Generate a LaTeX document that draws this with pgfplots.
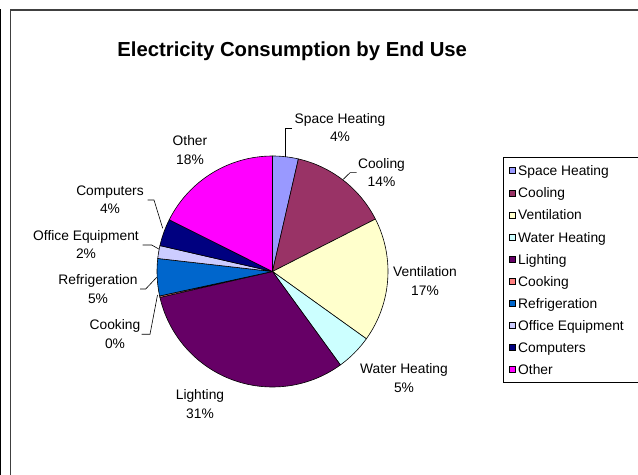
\documentclass[border=0pt]{standalone}
\usepackage{pgfplots}
\pgfplotsset{compat=1.18}
\usepackage{fontspec}
\setmainfont{Liberation Sans}
\definecolor{cSpace}{HTML}{9999FF}
\definecolor{cCool}{HTML}{993366}
\definecolor{cVent}{HTML}{FFFFCC}
\definecolor{cWater}{HTML}{CCFFFF}
\definecolor{cLight}{HTML}{660066}
\definecolor{cCook}{HTML}{FF8080}
\definecolor{cRefr}{HTML}{0066CC}
\definecolor{cOffice}{HTML}{CCCCFF}
\definecolor{cComp}{HTML}{000080}
\definecolor{cOther}{HTML}{FF00FF}
\newcommand\lab{\fontsize{13.8bp}{18.7bp}\selectfont}
% share of electricity consumption (%) / slice colour, clockwise from 12 o'clock
\def\piedata{3.6/cSpace,13.9/cCool,17.4/cVent,5.1/cWater,31.4/cLight,0.2/cCook,5.2/cRefr,1.8/cOffice,3.8/cComp,17.6/cOther}
\begin{document}
\begin{tikzpicture}
\useasboundingbox (0,0) rectangle (638bp,475bp);
\begin{axis}[x=1bp,y=1bp,xmin=0,xmax=638,ymin=0,ymax=475,
  hide axis,clip=false,at={(0,0)},anchor=origin,
  legend style={at={(axis cs:503,318)},anchor=north west,draw=none,fill=none,
    font=\fontsize{13.8bp}{16bp}\selectfont,inner xsep=6bp,inner ysep=6.5bp,row sep=9.1bp,column sep=2.5bp,
    nodes={inner sep=0pt,text height=12bp,text depth=1bp,anchor=base west}},
  legend cell align=left,
  legend image code/.code={\filldraw[#1,draw=black,line width=0.5bp] (0bp,2bp) rectangle (6bp,8bp);}]
% chart frame
\draw[line width=1.3bp,black!75] (axis cs:10.8,-20) -- (axis cs:10.8,465) -- (axis cs:700,465);
\draw[line width=1.2bp,black] (axis cs:0.6,-20) -- (axis cs:0.6,465.5);
% legend frame (its right side lies past the edge of the picture)
\draw[line width=0.8bp] (axis cs:720,318) -- (axis cs:503,318) -- (axis cs:503,93) -- (axis cs:720,93);
% pie slices
\gdef\cum{0}
\foreach \v/\col in \piedata {
  \pgfmathsetmacro\sa{90-3.6*\cum}
  \pgfmathsetmacro\newcum{\cum+\v}
  \pgfmathsetmacro\ea{90-3.6*\newcum}
  \global\let\cum\newcum
  \edef\temp{\noexpand\filldraw[fill=\col,draw=black,line width=0.6bp,line join=round] (axis cs:272.5,203.5) -- ++(\sa:115.5bp) arc[start angle=\sa,end angle=\ea,radius=115.5bp] -- cycle;}
  \temp
}
\addlegendimage{fill=cSpace}\addlegendentry{Space Heating}
\addlegendimage{fill=cCool}\addlegendentry{Cooling}
\addlegendimage{fill=cVent}\addlegendentry{Ventilation}
\addlegendimage{fill=cWater}\addlegendentry{Water Heating}
\addlegendimage{fill=cLight}\addlegendentry{Lighting}
\addlegendimage{fill=cCook}\addlegendentry{Cooking}
\addlegendimage{fill=cRefr}\addlegendentry{Refrigeration}
\addlegendimage{fill=cOffice}\addlegendentry{Office Equipment}
\addlegendimage{fill=cComp}\addlegendentry{Computers}
\addlegendimage{fill=cOther}\addlegendentry{Other}
% title
\node[anchor=base,font=\bfseries\fontsize{20.3bp}{24bp}\selectfont] at (axis cs:292.2,418.3) {Electricity Consumption by End Use};
% leader lines
\draw[line width=0.6bp] (axis cs:292,347) -- (axis cs:285,347) -- (axis cs:285,318.3);
\draw[line width=0.6bp] (axis cs:356.7,302.3) -- (axis cs:350,302.3) -- (axis cs:343.3,295.7);
\draw[line width=0.6bp] (axis cs:141.7,140.7) -- (axis cs:150,140.7) -- (axis cs:157.5,180);
\draw[line width=0.6bp] (axis cs:140,186) -- (axis cs:145.7,186) -- (axis cs:156.7,197.7);
\draw[line width=0.6bp] (axis cs:142.7,230) -- (axis cs:151.7,230) -- (axis cs:159.3,225.7);
\draw[line width=0.6bp] (axis cs:147.7,275) -- (axis cs:154,275) -- (axis cs:162.7,246.7);
% data labels
\node[align=center,font=\lab] at (axis cs:340,347.5) {Space Heating\\4\%};
\node[align=center,font=\lab] at (axis cs:381.5,302.5) {Cooling\\14\%};
\node[align=center,font=\lab] at (axis cs:425,194) {Ventilation\\17\%};
\node[align=center,font=\lab] at (axis cs:404,97) {Water Heating\\5\%};
\node[align=center,font=\lab] at (axis cs:200,71) {Lighting\\31\%};
\node[align=center,font=\lab] at (axis cs:115,141) {Cooking\\0\%};
\node[align=center,font=\lab] at (axis cs:98,186) {Refrigeration\\5\%};
\node[align=center,font=\lab] at (axis cs:86,230.5) {Office Equipment\\2\%};
\node[align=center,font=\lab] at (axis cs:110,275.3) {Computers\\4\%};
\node[align=center,font=\lab] at (axis cs:190,325) {Other\\18\%};
\end{axis}
\end{tikzpicture}
\end{document}
